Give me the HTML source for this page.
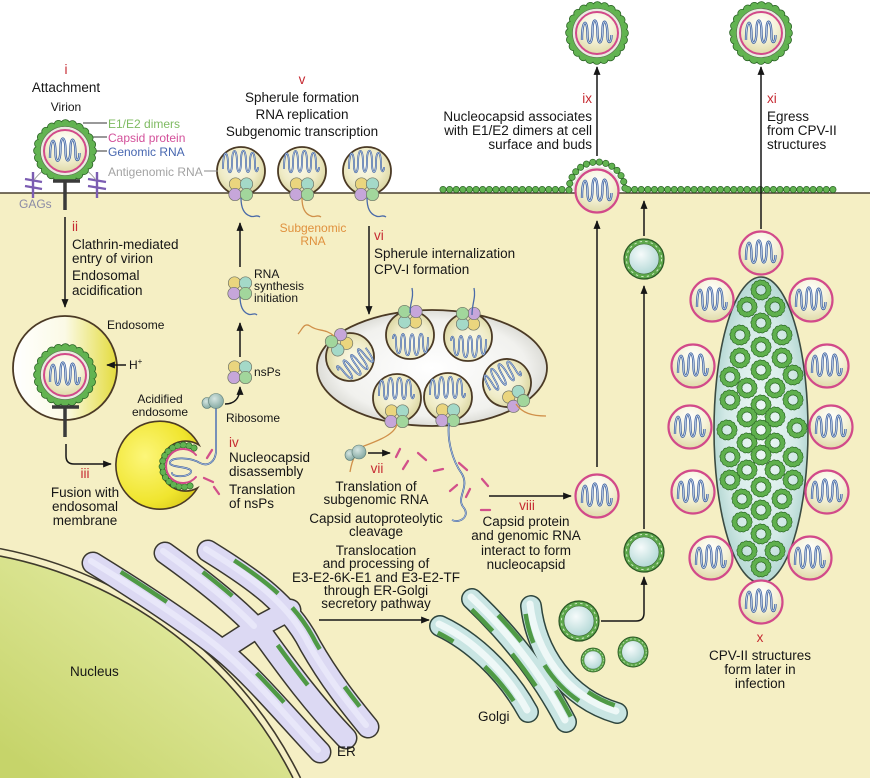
<!DOCTYPE html>
<html><head><meta charset="utf-8"><title>Alphavirus life cycle</title>
<style>
html,body{margin:0;padding:0;background:#ffffff;width:870px;height:778px;overflow:hidden;position:relative}
#top{position:absolute;left:0;top:0;width:870px;height:193px;background:#ffffff}
#cyto{position:absolute;left:0;top:193px;width:870px;height:585px;background:#f5efc4}
svg{display:block;position:absolute;left:0;top:0}
text{font-family:"Liberation Sans",Arial,sans-serif;font-size:13.5px;fill:#161616}
.s{font-size:12px}
.r{fill:#c62a32}
.m{text-anchor:middle}
.e{text-anchor:end}
.gr{fill:#7fbb62}
.pk{fill:#d3509a}
.bl{fill:#4767b0}
.gy{fill:#a3a3a3}
.gg{fill:#8b8ba6}
.or{fill:#e0913e}
</style></head><body>
<div id="top"></div>
<div id="cyto"></div>
<svg width="870" height="778" viewBox="0 0 870 778" xmlns="http://www.w3.org/2000/svg">
<defs>
 <radialGradient id="gPale" cx="0.45" cy="0.4" r="0.65"><stop offset="0" stop-color="#fbfaec"/><stop offset="0.6" stop-color="#efebc6"/><stop offset="1" stop-color="#d6d19a"/></radialGradient>
 <radialGradient id="gNc" cx="0.5" cy="0.3" r="0.75"><stop offset="0" stop-color="#ffffff"/><stop offset="0.5" stop-color="#f5f2d8"/><stop offset="1" stop-color="#dcd7a2"/></radialGradient>
 <radialGradient id="gCyan" cx="0.4" cy="0.35" r="0.7"><stop offset="0" stop-color="#f6fbfb"/><stop offset="1" stop-color="#b1d7d5"/></radialGradient>
 <linearGradient id="gEndo" x1="0" y1="0" x2="1" y2="0"><stop offset="0" stop-color="#ffffff"/><stop offset="0.5" stop-color="#fbfae6"/><stop offset="1" stop-color="#e3db3c"/></linearGradient>
 <radialGradient id="gAcid" cx="0.35" cy="0.4" r="0.75"><stop offset="0" stop-color="#fcf67a"/><stop offset="0.7" stop-color="#f0e52e"/><stop offset="1" stop-color="#d9c91a"/></radialGradient>
 <radialGradient id="gCpv1" cx="0.5" cy="0.5" r="0.55"><stop offset="0" stop-color="#ffffff"/><stop offset="0.75" stop-color="#f1f1ee"/><stop offset="1" stop-color="#d1d1ca"/></radialGradient>
 <radialGradient id="gCpv2" cx="0.5" cy="0.5" r="0.55"><stop offset="0" stop-color="#f0f9f7"/><stop offset="0.7" stop-color="#d2e9e6"/><stop offset="1" stop-color="#abd2cd"/></radialGradient>
 <linearGradient id="gNuc" gradientUnits="userSpaceOnUse" x1="200" y1="560" x2="40" y2="778"><stop offset="0" stop-color="#e6eda8"/><stop offset="1" stop-color="#c6d46a"/></linearGradient>
 <radialGradient id="gRib" cx="0.4" cy="0.35" r="0.7"><stop offset="0" stop-color="#d6e6e2"/><stop offset="1" stop-color="#7fa59e"/></radialGradient>

 <marker id="ah" viewBox="0 0 10 8" markerWidth="10" markerHeight="7" refX="9" refY="4" orient="auto" markerUnits="userSpaceOnUse"><path d="M0,0 L10,4 L0,8 Z" fill="#161616"/></marker>

 <path id="rnaV" d="M-15,7 C-15,-15 -9.5,-15 -9.5,2 C-9.5,13 -4.5,13 -4.5,-3 C-4.5,-16 0.5,-16 0.5,0 C0.5,13 5.5,13 5.5,-3 C5.5,-15 10.5,-15 10.5,4 C10.5,11 14.5,11 14.5,2"/>
 <g id="rna"><use href="#rnaV" fill="none" stroke="#3a5c9c" stroke-width="2.3"/><use href="#rnaV" fill="none" stroke="#c9dbef" stroke-width="0.8"/></g>
 <path id="rnaSp" d="M-18,2 C-18,-18 -13,-18 -13,-2 C-13,8 -9,8 -9,-4 C-9,-20 -4,-20 -4,-4 C-4,8 0,8 0,-6 C0,-20 5,-20 5,-4 C5,8 9,8 9,-4 C9,-18 14,-18 14,-2 C14,6 17,6 17,0"/>

 <g id="nc"><circle r="21.5" fill="url(#gNc)" stroke="#d24a8a" stroke-width="2.2"/><use href="#rna"/></g>

 <g id="vir">
  <circle r="27" fill="none" stroke="#2c6526" stroke-width="9.6" stroke-dasharray="0.01 7.07" stroke-linecap="round"/>
  <circle r="27" fill="none" stroke="#62b351" stroke-width="8" stroke-dasharray="0.01 7.07" stroke-linecap="round"/>
  <circle r="24.5" fill="#e9ece0" stroke="#5a6a50" stroke-width="0.6"/>
  <circle r="21" fill="url(#gNc)" stroke="#d24a8a" stroke-width="2"/>
  <use href="#rna"/>
 </g>

 <g id="nsp" stroke="#6f7466" stroke-width="0.7">
  <circle cx="-5.5" cy="-5" r="6.2" fill="#ead57e"/>
  <circle cx="5.5" cy="-5" r="6.2" fill="#a4d9c8"/>
  <circle cx="-6" cy="5.5" r="6.2" fill="#c6a6da"/>
  <circle cx="5.5" cy="5.5" r="6.2" fill="#a2d69c"/>
 </g>

 <g id="sph">
  <circle r="24" fill="url(#gPale)" stroke="#4b3a25" stroke-width="1.8"/>
  <g transform="translate(0,-4)"><use href="#rnaSp" fill="none" stroke="#3a5c9c" stroke-width="1.8"/><use href="#rnaSp" fill="none" stroke="#c9dbef" stroke-width="0.6"/></g>
  <use href="#nsp" y="18"/>
 </g>

 <g id="ves">
  <circle r="20" fill="#5da84b" stroke="#2a5524" stroke-width="1.2"/>
  <circle r="17.6" fill="none" stroke="#cfe8c4" stroke-width="1" stroke-dasharray="2.4 3.2"/>
  <circle r="15" fill="url(#gCyan)" stroke="#3b6a34" stroke-width="0.6"/>
 </g>

 <g id="rg">
  <circle r="7.5" fill="none" stroke="#2e6b28" stroke-width="6" stroke-dasharray="0.01 3.4" stroke-linecap="round"/>
  <circle r="7.5" fill="none" stroke="#5fb04d" stroke-width="4.6" stroke-dasharray="0.01 3.4" stroke-linecap="round"/>
  <circle r="7.5" fill="none" stroke="#5fb04d" stroke-width="3"/>
 </g>
</defs>

<!-- nucleus -->
<path d="M0,556 A417,417 0 0,1 293,778 L0,778 Z" fill="url(#gNuc)"/>
<path d="M0,548.6 A424,424 0 0,1 300.5,778" fill="none" stroke="#3f3a2c" stroke-width="1.6"/>
<path d="M0,556 A417,417 0 0,1 293,778" fill="none" stroke="#3f3a2c" stroke-width="1.6"/>

<!-- ER -->
<g fill="none" stroke-linecap="round" stroke-linejoin="round">
 <g stroke="#3a382f" stroke-width="23">
  <path d="M93,563 C140,592 185,622 215,645 C250,672 285,715 320,752"/>
  <path d="M165,553 C200,578 232,603 256,628"/>
  <path d="M208,551 C255,580 290,605 310,645 C330,680 350,705 368,727"/>
  <path d="M222,650 L256,628 L290,610"/>
  <path d="M258,628 C278,655 305,695 346,738"/>
 </g>
 <g stroke="#dcd9f3" stroke-width="20">
  <path d="M93,563 C140,592 185,622 215,645 C250,672 285,715 320,752"/>
  <path d="M165,553 C200,578 232,603 256,628"/>
  <path d="M208,551 C255,580 290,605 310,645 C330,680 350,705 368,727"/>
  <path d="M222,650 L256,628 L290,610"/>
  <path d="M258,628 C278,655 305,695 346,738"/>
 </g>
 <g stroke="#ecebfb" stroke-width="6" transform="translate(-2,-2)" opacity="0.8">
  <path d="M93,563 C140,592 185,622 215,645 C250,672 285,715 320,752"/>
  <path d="M165,553 C200,578 232,603 256,628"/>
  <path d="M208,551 C255,580 290,605 310,645 C330,680 350,705 368,727"/>
 </g>
 <g stroke="#4f9a45" stroke-width="4.5" stroke-linecap="butt">
  <path transform="translate(4,-6)" stroke-dasharray="0 28 55 115 40 1000" d="M93,563 C140,592 185,622 215,645 C250,672 285,715 320,752"/>
  <path transform="translate(4,-6)" stroke-dasharray="0 42 38 1000" d="M165,553 C200,578 232,603 256,628"/>
  <path transform="translate(5,-4)" stroke-dasharray="0 25 55 20 50 45 25 1000" d="M208,551 C255,580 290,605 310,645 C330,680 350,705 368,727"/>
  <path transform="translate(5,-3)" stroke-dasharray="0 25 50 1000" d="M258,628 C278,655 305,695 346,738"/>
 </g>
</g>

<!-- Golgi -->
<g fill="none" stroke-linecap="round">
 <g stroke="#2f463e" stroke-width="22">
  <path d="M440,626 C470,640 505,670 528,712"/>
  <path d="M472,599 C505,630 540,672 566,722"/>
  <path d="M531,606 C536,652 566,698 617,713"/>
 </g>
 <g stroke="#c9e5e3" stroke-width="19">
  <path d="M440,626 C470,640 505,670 528,712"/>
  <path d="M472,599 C505,630 540,672 566,722"/>
  <path d="M531,606 C536,652 566,698 617,713"/>
 </g>
 <g stroke="#eef8f7" stroke-width="7" transform="translate(-1,-2)">
  <path d="M440,626 C470,640 505,670 528,712"/>
  <path d="M472,599 C505,630 540,672 566,722"/>
  <path d="M531,606 C536,652 566,698 617,713"/>
 </g>
 <g stroke="#4f9a45" stroke-width="4.5" stroke-linecap="butt">
  <path transform="translate(-4,6)" stroke-dasharray="0 2 18 40 45 1000" d="M440,626 C470,640 505,670 528,712"/>
  <path transform="translate(-6,5)" stroke-dasharray="0 8 30 30 40 1000" d="M472,599 C505,630 540,672 566,722"/>
  <path transform="translate(5,-5)" stroke-dasharray="0 30 35 60 30 1000" d="M472,599 C505,630 540,672 566,722"/>
  <path transform="translate(-6,3)" stroke-dasharray="0 5 30 25 50 1000" d="M531,606 C536,652 566,698 617,713"/>
  <path transform="translate(3,-6)" stroke-dasharray="0 110 30 1000" d="M531,606 C536,652 566,698 617,713"/>
 </g>
</g>

<!-- Golgi vesicles -->
<use href="#ves" x="579" y="621"/>
<use href="#ves" transform="translate(593,660) scale(0.6)"/>
<use href="#ves" transform="translate(633,652) scale(0.75)"/>
<use href="#ves" x="644" y="552"/>
<use href="#ves" x="644" y="259"/>

<!-- CPV-I -->
<ellipse cx="432" cy="368" rx="115" ry="58" fill="url(#gCpv1)" stroke="#4b3a25" stroke-width="1.8"/>
<use href="#sph" transform="translate(350,357) rotate(143)"/>
<use href="#sph" transform="translate(410,335) rotate(180)"/>
<use href="#sph" transform="translate(468,337) rotate(180)"/>
<use href="#sph" transform="translate(397,398)"/>
<use href="#sph" transform="translate(448,397)"/>
<use href="#sph" transform="translate(507,383) rotate(-30)"/>
<g fill="none" stroke-width="1.3">
 <path d="M334,336 C325,328 318,332 310,326 C304,322 302,330 298,334" stroke="#d0904a"/>
 <path d="M410,313 C410,302 414,298 412,288" stroke="#4a6aa8"/>
 <path d="M472,315 C472,303 476,298 474,288" stroke="#4a6aa8"/>
 <path d="M397,424 C395,434 380,440 364,446 C356,450 352,460 350,472" stroke="#d0904a"/>
 <path d="M516,404 C522,413 532,416 546,416" stroke="#d0904a"/>
 <path d="M449,423 C447,440 452,460 462,474 C470,488 455,498 464,508 C470,516 460,524 452,520" stroke="#3a5c9c" stroke-width="1.8"/>
 <path d="M449,423 C447,440 452,460 462,474 C470,488 455,498 464,508 C470,516 460,524 452,520" stroke="#c9dbef" stroke-width="0.6"/>
</g>

<!-- capsid dashes -->
<g stroke="#d2508a" stroke-width="2.3" stroke-linecap="round">
 <path d="M396,457 L400,449"/><path d="M403,469 L408,461"/><path d="M418,453 L426,460"/>
 <path d="M434,471 L443,469"/><path d="M459,463 L467,470"/><path d="M450,491 L457,485"/>
 <path d="M466,497 L470,489"/><path d="M482,479 L488,486"/><path d="M481,510 L490,510"/>
</g>

<!-- vii ribosome -->
<ellipse cx="350" cy="455" rx="5" ry="5.5" fill="url(#gRib)" stroke="#5a7a74" stroke-width="0.6"/>
<circle cx="359" cy="452" r="7" fill="url(#gRib)" stroke="#5a7a74" stroke-width="0.6"/>

<!-- CPV-II -->
<ellipse cx="761" cy="430" rx="47" ry="153" fill="url(#gCpv2)" stroke="#3b4b42" stroke-width="1.6"/>
<use href="#rg" x="761" y="290"/><use href="#rg" x="747" y="307"/><use href="#rg" x="775" y="307"/>
<use href="#rg" x="761" y="323"/><use href="#rg" x="740" y="335"/><use href="#rg" x="782" y="335"/>
<use href="#rg" x="761" y="347"/><use href="#rg" x="740" y="358"/><use href="#rg" x="782" y="358"/>
<use href="#rg" x="761" y="370"/><use href="#rg" x="730" y="377"/><use href="#rg" x="793" y="375"/>
<use href="#rg" x="747" y="388"/><use href="#rg" x="775" y="388"/><use href="#rg" x="730" y="400"/>
<use href="#rg" x="793" y="400"/><use href="#rg" x="761" y="405"/><use href="#rg" x="747" y="417"/>
<use href="#rg" x="775" y="417"/><use href="#rg" x="727" y="430"/><use href="#rg" x="797" y="428"/>
<use href="#rg" x="761" y="430"/><use href="#rg" x="747" y="443"/><use href="#rg" x="775" y="443"/>
<use href="#rg" x="730" y="457"/><use href="#rg" x="793" y="457"/><use href="#rg" x="761" y="455"/>
<use href="#rg" x="747" y="470"/><use href="#rg" x="775" y="470"/><use href="#rg" x="730" y="480"/>
<use href="#rg" x="793" y="480"/><use href="#rg" x="761" y="487"/><use href="#rg" x="742" y="499"/>
<use href="#rg" x="782" y="499"/><use href="#rg" x="761" y="510"/><use href="#rg" x="742" y="522"/>
<use href="#rg" x="782" y="522"/><use href="#rg" x="761" y="534"/><use href="#rg" x="747" y="551"/>
<use href="#rg" x="775" y="551"/><use href="#rg" x="761" y="567"/>
<use href="#nc" x="761" y="253"/>
<use href="#nc" x="712" y="300"/><use href="#nc" x="811" y="300"/>
<use href="#nc" x="693" y="366"/><use href="#nc" x="827" y="366"/>
<use href="#nc" x="690" y="427"/><use href="#nc" x="831" y="427"/>
<use href="#nc" x="693" y="492"/><use href="#nc" x="827" y="492"/>
<use href="#nc" x="711" y="558"/><use href="#nc" x="810" y="558"/>
<use href="#nc" x="761" y="602"/>

<!-- nucleocapsid from viii -->
<use href="#nc" x="597" y="496"/>

<!-- membrane -->
<line x1="0" y1="193" x2="870" y2="193" stroke="#4a4030" stroke-width="1.6"/>
<g fill="none" stroke-linecap="round">
 <path d="M443,189.5 L567,189.5 M628,189.5 L838,189.5 M569,190 A28,28 0 0,1 625,190" stroke="#2c6526" stroke-width="7" stroke-dasharray="0.01 6.6"/>
 <path d="M443,189.5 L567,189.5 M628,189.5 L838,189.5 M569,190 A28,28 0 0,1 625,190" stroke="#62b351" stroke-width="5.6" stroke-dasharray="0.01 6.6"/>
</g>
<!-- budding virion -->
<path d="M572.5,191 A24.5,24.5 0 0,1 621.5,191 Z" fill="#e9ece0"/>
<use href="#nc" x="597" y="191"/>

<!-- spherules at membrane -->
<use href="#sph" x="241" y="171"/>
<use href="#sph" x="302" y="171"/>
<use href="#sph" x="367" y="171"/>
<g fill="none" stroke-width="1.3">
 <path d="M241,198 C241,208 244,214 250,216 C254,218 256,214 260,217" stroke="#4a6aa8"/>
 <path d="M302,198 C302,208 305,214 311,216 C315,218 317,214 321,217" stroke="#d0904a"/>
 <path d="M367,198 C367,208 370,214 376,216 C380,218 382,214 386,217" stroke="#4a6aa8"/>
 <path d="M240,296 C240,306 243,312 248,314 C252,316 254,312 257,315" stroke="#4a6aa8"/>
 <path d="M204,171 L218,171" stroke="#8a8a8a" stroke-width="1"/>
 <path d="M83,123 L107,123 M86,137 L107,137 M82,151 L107,151" stroke="#333" stroke-width="1"/>
</g>
<use href="#nsp" x="240" y="288"/>
<use href="#nsp" x="240" y="372"/>

<!-- top-left virion & receptors -->
<g stroke="#7b5cb2" stroke-width="2.4" fill="none">
 <path d="M33,172 L33,198 M25,179 L42,182 M25,186 L42,189"/>
 <path d="M97,172 L97,198 M88,179 L106,182 M88,186 L106,189"/>
</g>
<path d="M44,170 C40,173 37,176 34,180 M86,170 C90,173 93,176 96,180" stroke="#999" stroke-width="0.8" fill="none"/>
<use href="#vir" x="65" y="151"/>
<path d="M53,181 L80,181 M65,181 L65,210" stroke="#3a3a3a" stroke-width="3.5" fill="none"/>

<!-- endosome -->
<circle cx="65" cy="368" r="52" fill="url(#gEndo)" stroke="#4b3a25" stroke-width="1.8"/>
<use href="#vir" x="65" y="375"/>
<path d="M52,407 L79,407 M65,407 L65,437" stroke="#3a3a3a" stroke-width="3.5" fill="none"/>

<!-- acidified endosome -->
<path d="M199,445 A44,44 0 1,0 197.5,488 A25,25 0 1,1 199,445 Z" fill="url(#gAcid)" stroke="#4b3a25" stroke-width="1.6"/>
<g fill="none" stroke-linecap="round">
 <path d="M194,448 A21,21 0 1,0 194,484" stroke="#2c6526" stroke-width="7" stroke-dasharray="0.01 5.6"/>
 <path d="M194,448 A21,21 0 1,0 194,484" stroke="#62b351" stroke-width="5.6" stroke-dasharray="0.01 5.6"/>
 <path d="M196,455 A17,17 0 1,0 196,477" stroke="#d24a8a" stroke-width="2"/>
 <path d="M172,473 C172,478 192,477 191,471 C190,466 168,468 170,462 C172,457 190,457 200,463 C208,467 215,462 216,452 L216,406" stroke="#3a5c9c" stroke-width="1.8"/>
 <path d="M172,473 C172,478 192,477 191,471 C190,466 168,468 170,462 C172,457 190,457 200,463 C208,467 215,462 216,452 L216,406" stroke="#c9dbef" stroke-width="0.6"/>
</g>
<g stroke="#d2508a" stroke-width="2.3" stroke-linecap="round">
 <path d="M207,458 L212,450"/><path d="M204,478 L213,482"/><path d="M214,487 L219,494"/>
</g>
<!-- ribosome iv -->
<ellipse cx="207" cy="403" rx="5" ry="5.5" fill="url(#gRib)" stroke="#5a7a74" stroke-width="0.6"/>
<circle cx="216" cy="401" r="7.5" fill="url(#gRib)" stroke="#5a7a74" stroke-width="0.6"/>

<!-- top virions -->
<use href="#vir" x="597" y="33"/>
<use href="#vir" x="761" y="33"/>

<!-- arrows -->
<g fill="none" stroke="#161616" stroke-width="1.5" marker-end="url(#ah)">
 <path d="M65,217 L65,307"/>
 <path d="M66,444 L66,456 Q66,464 74,464 L111,464"/>
 <path d="M240,357 L240,323"/>
 <path d="M240,267 L240,223"/>
 <path d="M369,226 L369,314"/>
 <path d="M225,404 C233,404 240,400 240,387"/>
 <path d="M368,453 L390,453"/>
 <path d="M489,496 L571,496"/>
 <path d="M597,467 L597,221"/>
 <path d="M597,156 L597,67"/>
 <path d="M644,236 L644,201"/>
 <path d="M644,529 L644,286"/>
 <path d="M601,621 L636,621 Q644,621 644,613 L644,577"/>
 <path d="M761,229 L761,67"/>
 <path d="M319,620 L429,620"/>
 <path d="M126,365 L107,365"/>
</g>

<!-- text -->
<text x="66" y="74" class="r m">i</text>
<text x="66" y="92" class="m">Attachment</text>
<text x="66" y="111" class="s m">Virion</text>
<text x="108" y="128" class="s gr">E1/E2 dimers</text>
<text x="108" y="142" class="s pk">Capsid protein</text>
<text x="108" y="156" class="s bl">Genomic RNA</text>
<text x="108" y="176" class="s gy">Antigenomic RNA</text>
<text x="19" y="208" class="s gg">GAGs</text>

<text x="302" y="84" class="r m">v</text>
<text x="302" y="102" class="m">Spherule formation</text>
<text x="302" y="119" class="m">RNA replication</text>
<text x="302" y="136" class="m">Subgenomic transcription</text>

<text x="72" y="231" class="r">ii</text>
<text x="72" y="249">Clathrin-mediated</text>
<text x="72" y="263">entry of virion</text>
<text x="72" y="280">Endosomal</text>
<text x="72" y="295">acidification</text>

<text x="107" y="329" class="s">Endosome</text>
<text x="129" y="369" class="s">H<tspan font-size="8" dy="-5">+</tspan></text>
<text x="160" y="403" class="s m">Acidified</text>
<text x="160" y="416" class="s m">endosome</text>
<text x="226" y="422" class="s">Ribosome</text>
<text x="254" y="376" class="s">nsPs</text>
<text x="254" y="278" class="s">RNA</text>
<text x="254" y="290" class="s">synthesis</text>
<text x="254" y="302" class="s">initiation</text>
<text x="313" y="232" class="s m or">Subgenomic</text>
<text x="313" y="245" class="s m or">RNA</text>

<text x="374" y="240" class="r">vi</text>
<text x="374" y="258">Spherule internalization</text>
<text x="374" y="274">CPV-I formation</text>

<text x="85" y="478" class="r m">iii</text>
<text x="85" y="497" class="m">Fusion with</text>
<text x="85" y="511" class="m">endosomal</text>
<text x="85" y="525" class="m">membrane</text>

<text x="229" y="447" class="r">iv</text>
<text x="229" y="462">Nucleocapsid</text>
<text x="229" y="476">disassembly</text>
<text x="229" y="494">Translation</text>
<text x="229" y="508">of nsPs</text>

<text x="377" y="473" class="r m">vii</text>
<text x="376" y="491" class="m">Translation of</text>
<text x="376" y="504" class="m">subgenomic RNA</text>
<text x="376" y="523" class="m">Capsid autoproteolytic</text>
<text x="376" y="536" class="m">cleavage</text>
<text x="376" y="555" class="m">Translocation</text>
<text x="376" y="568" class="m">and processing of</text>
<text x="376" y="582" class="m">E3-E2-6K-E1 and E3-E2-TF</text>
<text x="376" y="595" class="m">through ER-Golgi</text>
<text x="376" y="608" class="m">secretory pathway</text>

<text x="527" y="510" class="r m">viii</text>
<text x="526" y="526" class="m">Capsid protein</text>
<text x="526" y="540" class="m">and genomic RNA</text>
<text x="526" y="555" class="m">interact to form</text>
<text x="526" y="569" class="m">nucleocapsid</text>

<text x="592" y="103" class="r e">ix</text>
<text x="592" y="121" class="e">Nucleocapsid associates</text>
<text x="592" y="135" class="e">with E1/E2 dimers at cell</text>
<text x="592" y="149" class="e">surface and buds</text>

<text x="767" y="103" class="r">xi</text>
<text x="767" y="121">Egress</text>
<text x="767" y="135">from CPV-II</text>
<text x="767" y="149">structures</text>

<text x="760" y="642" class="r m">x</text>
<text x="760" y="660" class="m">CPV-II structures</text>
<text x="760" y="674" class="m">form later in</text>
<text x="760" y="688" class="m">infection</text>

<text x="70" y="676">Nucleus</text>
<text x="337" y="756">ER</text>
<text x="478" y="721">Golgi</text>
</svg>
</body></html>
